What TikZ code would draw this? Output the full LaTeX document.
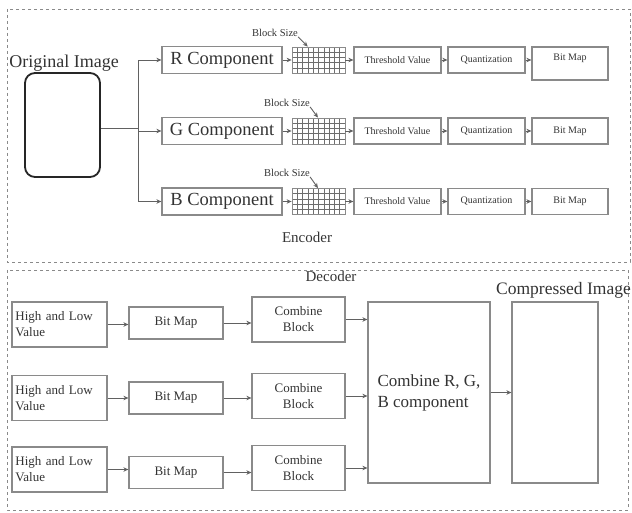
\documentclass[tikz,border=0pt]{standalone}
\usepackage{fontspec}
\setmainfont{Liberation Serif}
\usepackage{xcolor}
\usetikzlibrary{positioning, arrows.meta, calc}

\definecolor{linegray}{HTML}{8A8A8A}
\definecolor{textgray}{HTML}{333333}

\begin{document}
\begin{tikzpicture}[
    x=1pt, y=-1pt,
    every node/.style={text=textgray},
    block/.style={rectangle, draw=linegray, line width=1.2pt, align=center, inner sep=1pt},
    small/.style={block, minimum height=26pt, font=\fontsize{10}{11}\selectfont},
    comp/.style={block, minimum width=120pt, minimum height=27pt, font=\fontsize{18.5}{19}\selectfont},
    blocksize/.style={rectangle, draw=linegray, line width=0.8pt, minimum width=53pt, minimum height=26pt, inner sep=0pt,
        path picture={
            \foreach \i in {1,...,9}
                \draw[linegray!80!black, line width=0.5pt] ($(path picture bounding box.north west)!\i/10!(path picture bounding box.north east)$) -- ($(path picture bounding box.south west)!\i/10!(path picture bounding box.south east)$);
            \foreach \j in {1,...,4}
                \draw[linegray!80!black, line width=0.5pt] ($(path picture bounding box.north west)!\j/5!(path picture bounding box.south west)$) -- ($(path picture bounding box.north east)!\j/5!(path picture bounding box.south east)$);
        }},
    label/.style={font=\fontsize{10.5}{11}\selectfont, inner sep=0pt},
    dec/.style={block, font=\fontsize{13}{16}\selectfont},
    frame/.style={draw=linegray, dashed, line width=0.8pt},
    arrow/.style={-{Stealth[length=5pt, width=4.5pt]}, draw=linegray!70!black, line width=0.9pt},
    line/.style={draw=linegray!70!black, line width=0.9pt}
]
    \useasboundingbox (0,0) rectangle (632,513);

    % frames
    \draw [frame] (7,9) rectangle (630,262);
    \draw [frame] (7,270) rectangle (628,510);

    % encoder
    \node [rectangle, draw=black!85, line width=1.8pt, rounded corners=10pt, minimum width=75pt, minimum height=104pt] (orig) at (62.5,125) {};
    \node [font=\fontsize{18}{20}\selectfont, inner sep=0pt] (origlabel) at (64,63) {Original Image};
    \coordinate (split) at (138,128);

    \node [comp] (rcomp) at (222,60) {R Component};
    \node [comp] (gcomp) at (222,131) {G Component};
    \node [comp] (bcomp) at (222,201.5) {B Component};

    \node [blocksize] (rgrid) at (318.5,60) {};
    \node [blocksize] (ggrid) at (318.5,131) {};
    \node [blocksize] (bgrid) at (318.5,201.5) {};

    \node [label] (rsize) at (275,33) {Block Size};
    \node [label] (gsize) at (287,103) {Block Size};
    \node [label] (bsize) at (287,173) {Block Size};

    \node [small, minimum width=87pt] (rthr) at (397.5,60) {Threshold Value};
    \node [small, minimum width=87pt] (gthr) at (397.5,131) {Threshold Value};
    \node [small, minimum width=87pt] (bthr) at (397.5,201.5) {Threshold Value};

    \node [small, minimum width=77pt] (rquant) at (486.5,60) {Quantization};
    \node [small, minimum width=77pt] (gquant) at (486.5,131) {Quantization};
    \node [small, minimum width=77pt] (bquant) at (486.5,201.5) {Quantization};

    \node [small, minimum width=76pt, minimum height=33pt, text depth=12pt] (rbit) at (570,63.5) {Bit Map};
    \node [small, minimum width=76pt] (gbit) at (570,131) {Bit Map};
    \node [small, minimum width=76pt] (bbit) at (570,201.5) {Bit Map};

    \node [font=\fontsize{15}{16}\selectfont, inner sep=0pt] (enclabel) at (307,237) {Encoder};

    \draw [line] (orig.east |- split) -- (split);
    \draw [arrow] (split) |- (rcomp.west);
    \draw [arrow] (split) |- (gcomp.west);
    \draw [arrow] (split) |- (bcomp.west);

    \draw [arrow] (rcomp) -- (rgrid);
    \draw [arrow] (gcomp) -- (ggrid);
    \draw [arrow] (bcomp) -- (bgrid);
    \draw [arrow] (rgrid) -- (rthr);
    \draw [arrow] (ggrid) -- (gthr);
    \draw [arrow] (bgrid) -- (bthr);
    \draw [arrow] (rthr) -- (rquant);
    \draw [arrow] (gthr) -- (gquant);
    \draw [arrow] (bthr) -- (bquant);
    \draw [arrow] (rquant) -- (rquant.east -| rbit.west);
    \draw [arrow] (gquant) -- (gbit);
    \draw [arrow] (bquant) -- (bbit);

    \draw [arrow] (rsize.south east) -- ($(rgrid.north west)!0.3!(rgrid.north east)$);
    \draw [arrow] (gsize.south east) -- ($(ggrid.north west)!0.49!(ggrid.north east)$);
    \draw [arrow] (bsize.south east) -- ($(bgrid.north west)!0.49!(bgrid.north east)$);

    % decoder
    \node [font=\fontsize{15}{16}\selectfont, inner sep=0pt] (declabel) at (331,276) {Decoder};

    \node [dec, minimum width=95pt, minimum height=45pt, align=left, text width=88pt] (hl1) at (59.5,324.5) {High and Low\\Value};
    \node [dec, minimum width=95pt, minimum height=45pt, align=left, text width=88pt] (hl2) at (59.5,398) {High and Low\\Value};
    \node [dec, minimum width=95pt, minimum height=45pt, align=left, text width=88pt] (hl3) at (59.5,469.5) {High and Low\\Value};

    \node [dec, minimum width=94pt, minimum height=32pt] (bm1) at (176,323) {Bit Map};
    \node [dec, minimum width=94pt, minimum height=32pt] (bm2) at (176,398) {Bit Map};
    \node [dec, minimum width=94pt, minimum height=32pt] (bm3) at (176,472.5) {Bit Map};

    \node [dec, minimum width=93pt, minimum height=45pt] (cb1) at (298.5,319.5) {Combine\\Block};
    \node [dec, minimum width=93pt, minimum height=45pt] (cb2) at (298.5,396) {Combine\\Block};
    \node [dec, minimum width=93pt, minimum height=45pt] (cb3) at (298.5,468) {Combine\\Block};

    \node [block, minimum width=122pt, minimum height=181pt, align=left, font=\fontsize{17}{21}\selectfont] (rgb) at (429,392.5) {Combine R, G,\\B component};
    \node [block, minimum width=86pt, minimum height=181pt] (out) at (555,392.5) {};
    \node [font=\fontsize{17.5}{19}\selectfont, anchor=west, inner sep=0pt] (outlabel) at (496,290) {Compressed Image};

    \draw [arrow] (hl1.east) -- (hl1.east -| bm1.west);
    \draw [arrow] (hl2.east) -- (hl2.east -| bm2.west);
    \draw [arrow] (hl3.east) -- (hl3.east -| bm3.west);
    \draw [arrow] (bm1.east) -- (bm1.east -| cb1.west);
    \draw [arrow] (bm2.east) -- (bm2.east -| cb2.west);
    \draw [arrow] (bm3.east) -- (bm3.east -| cb3.west);
    \draw [arrow] (cb1.east) -- (cb1.east -| rgb.west);
    \draw [arrow] (cb2.east) -- (cb2.east -| rgb.west);
    \draw [arrow] (cb3.east) -- (cb3.east -| rgb.west);
    \draw [arrow] (rgb) -- (out);
\end{tikzpicture}
\end{document}
